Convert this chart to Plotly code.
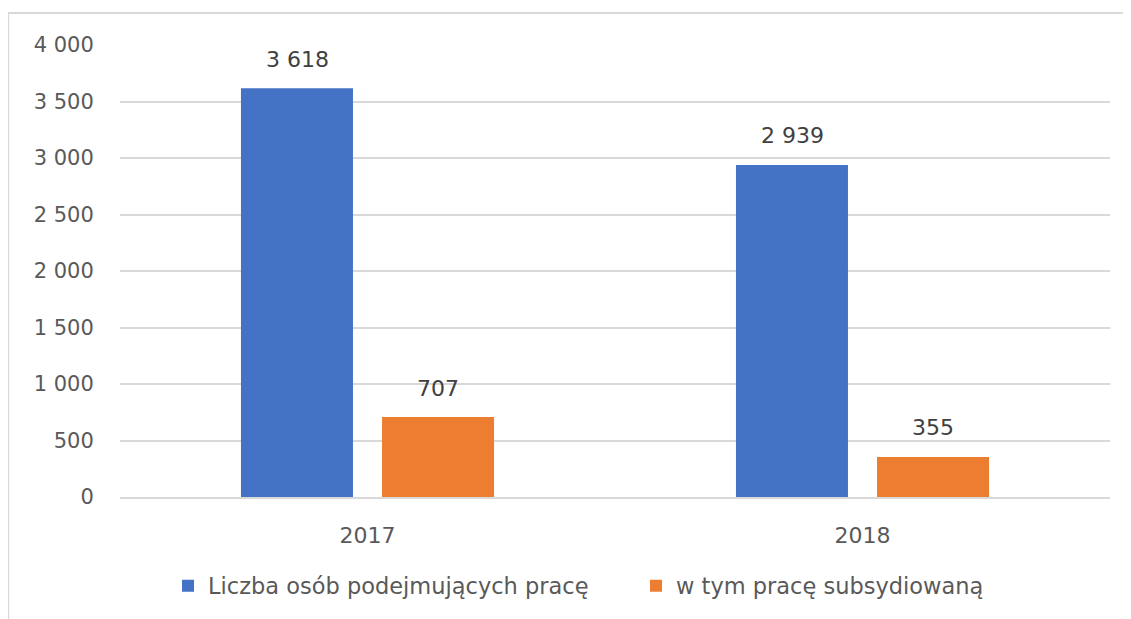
import plotly.graph_objects as go

years = ["2017", "2018"]
total = [3618, 2939]
subsidised = [707, 355]
series_names = ["Liczba osób podejmujących pracę", "w tym pracę subsydiowaną"]
colors = ["#4472C4", "#ED7D31"]
y_ticks = [0, 500, 1000, 1500, 2000, 2500, 3000, 3500, 4000]

font_family = "'DejaVu Sans', sans-serif"

fig = go.Figure()
offsets = [-70, 70]
for name, vals, col, dx in zip(series_names, [total, subsidised], colors, offsets):
    fig.add_trace(go.Bar(
        x=years, y=vals, name=name, marker_color=col, marker_line_width=0,
    ))
    for i, v in enumerate(vals):
        fig.add_annotation(
            x=i, y=v, xref="x", yref="y", text=f"{v:,}".replace(",", " "),
            showarrow=False, xshift=dx, yshift=29, yanchor="middle",
            font=dict(size=22, color="#404040", family=font_family),
        )

fig.update_layout(
    width=1131, height=619,
    separators=", ",
    paper_bgcolor="white", plot_bgcolor="white",
    margin=dict(l=112, r=29, t=37, b=130, autoexpand=False),
    barmode="group", bargap=0.43, bargroupgap=0.206,
    font=dict(family=font_family, color="#595959"),
    legend=dict(orientation="h", x=0.0485, xanchor="left", y=-0.197, yanchor="middle",
                font=dict(size=22.5, color="#595959"), itemwidth=30,
                entrywidth=423, entrywidthmode="pixels",
                traceorder="normal"),
    xaxis=dict(type="category", range=[-0.5, len(years) - 0.5],
               showgrid=False, showline=True, linecolor="#d9d9d9", linewidth=1.5,
               ticks="outside", ticklen=18, tickcolor="rgba(0,0,0,0)",
               tickfont=dict(size=22, color="#595959")),
    yaxis=dict(range=[0, 4000], tickvals=y_ticks, tickformat=",",
               showgrid=True, gridcolor="#d9d9d9", gridwidth=1.5,
               zeroline=False, showline=False,
               ticks="outside", ticklen=21, tickcolor="rgba(0,0,0,0)",
               tickfont=dict(size=21, color="#595959")),
    shapes=[dict(type="rect", xref="paper", yref="paper",
                 x0=-0.113, x1=1.05, y0=-0.4, y1=1.0708,
                 line=dict(color="#d9d9d9", width=2), layer="below")],
)

fig.write_html("out.html")
